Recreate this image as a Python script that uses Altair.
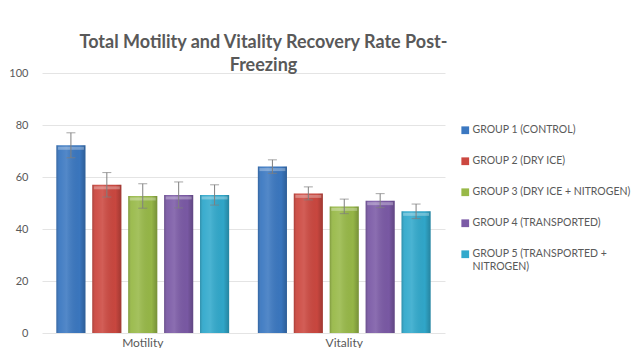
import altair as alt
import pandas as pd

categories = ["Motility", "Vitality"]
groups = [
    "GROUP 1 (CONTROL)",
    "GROUP 2 (DRY ICE)",
    "GROUP 3 (DRY ICE + NITROGEN)",
    "GROUP 4 (TRANSPORTED)",
    "GROUP 5 (TRANSPORTED + NITROGEN)",
]
motility = [72.2, 57.0, 52.7, 53.1, 53.1]
motility_err = [4.8, 4.7, 4.7, 5.0, 3.9]
vitality = [64.0, 53.7, 48.7, 50.9, 46.8]
vitality_err = [2.6, 2.5, 2.8, 2.7, 2.8]
colors = ["#3b78c1", "#cc4840", "#98b948", "#7b5aa6", "#31a9cc"]

rows = []
for cat, vals, errs in [("Motility", motility, motility_err), ("Vitality", vitality, vitality_err)]:
    for g, v, e in zip(groups, vals, errs):
        rows.append({"cat": cat, "group": g, "value": v, "low": v - e, "high": v + e})
df = pd.DataFrame(rows)

FONT = "Lato"
GREY = "#595959"

x = alt.X("cat:N", sort=categories, title=None,
          scale=alt.Scale(paddingInner=0, paddingOuter=0),
          axis=alt.Axis(labelAngle=0, labelFontSize=12, labelColor=GREY, labelFont=FONT,
                        ticks=False, domain=False, labelPadding=4))
xo = alt.XOffset("group:N", sort=groups, scale=alt.Scale(paddingInner=0.19, paddingOuter=0.4))

base = alt.Chart(df)

bars = base.mark_bar().encode(
    x=x, xOffset=xo,
    y=alt.Y("value:Q", title=None, scale=alt.Scale(domain=[0, 100]),
            axis=alt.Axis(values=[0, 20, 40, 60, 80, 100], ticks=False, domain=False,
                          labelFontSize=11, labelColor=GREY, labelFont=FONT, labelPadding=14,
                          gridColor="#e4e4e4")),
    color=alt.Color("group:N", sort=groups, scale=alt.Scale(domain=groups, range=colors),
                    legend=alt.Legend(title=None, orient="none", legendX=418, legendY=52,
                                      symbolType="square", symbolSize=60, symbolStrokeWidth=0,
                                      labelFontSize=10.5, labelColor=GREY, labelFont=FONT,
                                      labelLimit=300, rowPadding=20, labelOffset=2,
                                      labelExpr="datum.label == 'GROUP 5 (TRANSPORTED + NITROGEN)' ? ['GROUP 5 (TRANSPORTED +', 'NITROGEN)'] : datum.label")),
)

shade = base.mark_bar(
    fill=alt.Gradient(gradient="linear", x1=0, x2=1, y1=0, y2=0, stops=[
        alt.GradientStop(offset=0, color="rgba(0,0,0,0.18)"),
        alt.GradientStop(offset=0.12, color="rgba(255,255,255,0.05)"),
        alt.GradientStop(offset=0.35, color="rgba(255,255,255,0.12)"),
        alt.GradientStop(offset=0.8, color="rgba(0,0,0,0.02)"),
        alt.GradientStop(offset=1, color="rgba(0,0,0,0.22)"),
    ])
).encode(x=x, xOffset=xo, y="value:Q")

highlight = base.mark_tick(color="white", opacity=0.3, thickness=3, size=26, yOffset=3).encode(
    x=x, xOffset=xo, y="value:Q")

err = base.mark_rule(color="#7f7f7f", strokeWidth=1).encode(
    x=x, xOffset=xo, y="low:Q", y2="high:Q")
cap_lo = base.mark_tick(color="#7f7f7f", thickness=1, size=9).encode(x=x, xOffset=xo, y="low:Q")
cap_hi = base.mark_tick(color="#7f7f7f", thickness=1, size=9).encode(x=x, xOffset=xo, y="high:Q")

chart = alt.layer(bars, shade, highlight, err, cap_lo, cap_hi).properties(
    width=403, height=260,
    title=alt.TitleParams(
        text=["Total Motility and Vitality Recovery Rate Post-", "Freezing"],
        anchor="middle", dx=20, fontSize=18, fontWeight="bold", font=FONT, color=GREY,
        lineHeight=23, offset=-8),
    autosize=alt.AutoSizeParams(type="none"),
    padding={"left": 34, "top": 65, "right": 188, "bottom": 15},
).configure_view(stroke=None)

chart.save("out.html", embed_options={"renderer": "svg", "actions": False})
